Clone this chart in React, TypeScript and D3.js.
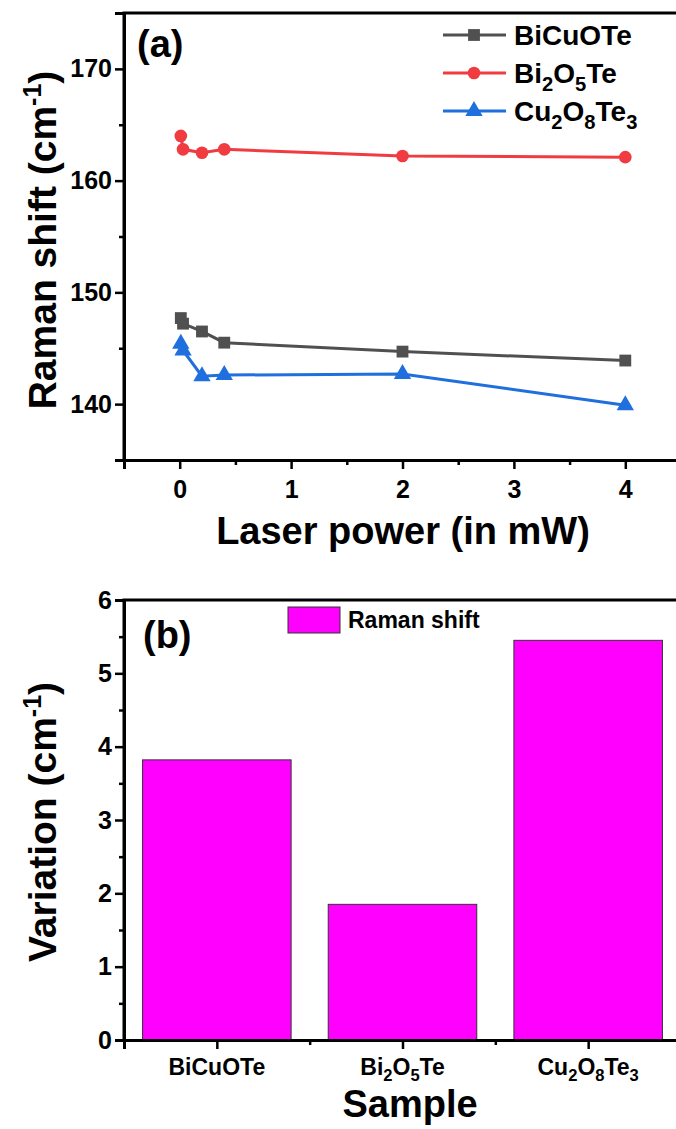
import React, { useEffect, useRef } from 'react'
import * as d3 from 'd3'

// panel (a): Raman shift vs laser power
const power = [0.01, 0.03, 0.2, 0.4, 2, 4]
const bicuote = [147.7, 147.2, 146.5, 145.5, 144.7, 143.9]
const bi2o5te = [164.0, 162.8, 162.5, 162.8, 162.2, 162.1]
const cu2o8te3 = [145.4, 144.8, 142.5, 142.6, 142.7, 139.9]
const xTicksA = [0, 1, 2, 3, 4]
const yTicksA = [140, 150, 160, 170]

// panel (b): variation per sample
const samples = ['BiCuOTe', 'Bi2O5Te', 'Cu2O8Te3']
const variation = [3.82, 1.85, 5.45]
const yTicksB = [0, 1, 2, 3, 4, 5, 6]

const FONT = '"Liberation Sans", Arial, sans-serif'

// write a formula like Bi2O5Te with subscript digits
const writeFormula = (sel: any, s: string, size: number, k = 0.3) => {
	const parts = s.match(/\d+|\D+/g) || []
	const shift = size * k
	let prev = 0
	parts.forEach((p) => {
		const sub = /\d/.test(p)
		const cur = sub ? shift : 0
		sel
			.append('tspan')
			.attr('font-size', sub ? size * 0.72 : size)
			.attr('dy', cur - prev)
			.text(p)
		prev = cur
	})
}

const styleTicks = (g: any, size: number) => {
	g.selectAll('.domain').attr('stroke-width', 3)
	g.selectAll('.tick line').attr('stroke-width', 2.5)
	g.selectAll('.tick text')
		.attr('font-size', size)
		.attr('font-family', FONT)
		.attr('font-weight', 'bold')
		.attr('fill', '#000')
}

const App = () => {
	const ref = useRef<SVGSVGElement>(null)

	useEffect(() => {
		const svg = d3.select(ref.current)
		svg.selectAll('*').remove()
		svg.attr('font-family', FONT).attr('font-weight', 'bold')

		// ---------- panel (a) ----------
		const left = 124
		const topA = 13
		const botA = 460
		const rightA = 681
		const x = d3.scaleLinear().domain([-0.5, 4.5]).range([left, rightA])
		const y = d3.scaleLinear().domain([135, 175]).range([botA, topA])

		const gA = svg.append('g')
		const series = [
			{ name: 'BiCuOTe', vals: bicuote, color: '#505050', sym: d3.symbolSquare, size: 140 },
			{ name: 'Bi2O5Te', vals: bi2o5te, color: '#f03c40', sym: d3.symbolCircle, size: 125 },
			{ name: 'Cu2O8Te3', vals: cu2o8te3, color: '#1f6fde', sym: d3.symbolTriangle, size: 130 },
		]
		const line = d3
			.line<number>()
			.x((d, i) => x(power[i]))
			.y((d) => y(d))

		series.forEach((s) => {
			gA.append('path')
				.attr('d', line(s.vals))
				.attr('fill', 'none')
				.attr('stroke', s.color)
				.attr('stroke-width', 3)
			gA.selectAll(null)
				.data(s.vals)
				.enter()
				.append('path')
				.attr('d', d3.symbol().type(s.sym).size(s.size)())
				.attr('transform', (d, i) => `translate(${x(power[i])},${y(d)})`)
				.attr('fill', s.color)
		})

		// frame
		gA.append('path')
			.attr('d', `M${left},${botA}V${topA}H${rightA}`)
			.attr('fill', 'none')
			.attr('stroke', '#000')
			.attr('stroke-width', 3)

		const xAxisA = gA.append('g').attr('transform', `translate(0,${botA})`)
		xAxisA.call(d3.axisBottom(x).tickValues(xTicksA).tickSize(9).tickPadding(11).tickFormat(d3.format('d')))
		xAxisA
			.append('g')
			.call(d3.axisBottom(x).tickValues(d3.range(-0.5, 4.6, 1)).tickSize(5).tickFormat(() => ''))

		const yAxisA = gA.append('g').attr('transform', `translate(${left},0)`)
		yAxisA.call(d3.axisLeft(y).tickValues(yTicksA).tickSize(9).tickPadding(3).tickFormat(d3.format('d')))
		yAxisA
			.append('g')
			.call(d3.axisLeft(y).tickValues([135, 145, 155, 165, 175]).tickSize(5).tickFormat(() => ''))
		styleTicks(gA, 25)

		gA.append('text')
			.attr('x', 137)
			.attr('y', 57)
			.attr('font-size', 38)
			.text('(a)')

		gA.append('text')
			.attr('x', 403)
			.attr('y', 544)
			.attr('text-anchor', 'middle')
			.attr('font-size', 38)
			.text('Laser power (in mW)')

		const yl = gA.append('text')
			.attr('transform', `translate(56,240) rotate(-90)`)
			.attr('text-anchor', 'middle')
			.attr('font-size', 39)
		yl.append('tspan').text('Raman shift (cm')
		yl.append('tspan').attr('font-size', 25).attr('dy', -15).text('-1')
		yl.append('tspan').attr('dy', 15).text(')')

		// legend (a)
		series.forEach((s, i) => {
			const ly = 35 + i * 38
			const lg = gA.append('g').attr('transform', `translate(0,${ly})`)
			lg.append('line').attr('x1', 443).attr('x2', 506).attr('y1', 0).attr('y2', 0)
				.attr('stroke', s.color).attr('stroke-width', 3)
			lg.append('path').attr('d', d3.symbol().type(s.sym).size(s.size)())
				.attr('transform', 'translate(474,0)').attr('fill', s.color)
			const t = lg.append('text').attr('x', 514).attr('y', 10).attr('font-size', 28)
			writeFormula(t, s.name, 28)
		})

		// ---------- panel (b) ----------
		const topB = 600
		const botB = 1040
		const xb = d3.scaleLinear().domain([0.5, 3.5]).range([left, rightA])
		const yb = d3.scaleLinear().domain([0, 6]).range([botB, topB])
		const band = 0.8
		const gB = svg.append('g')

		gB.selectAll('rect.bar')
			.data(variation)
			.enter()
			.append('rect')
			.attr('class', 'bar')
			.attr('x', (d, i) => xb(i + 1 - band / 2))
			.attr('width', xb(1 + band / 2) - xb(1 - band / 2))
			.attr('y', (d) => yb(d))
			.attr('height', (d) => botB - yb(d))
			.attr('fill', '#ff00ff')
			.attr('stroke', '#333')
			.attr('stroke-width', 1)

		gB.append('path')
			.attr('d', `M${left},${botB}V${topB}H${rightA}`)
			.attr('fill', 'none')
			.attr('stroke', '#000')
			.attr('stroke-width', 3)

		const xAxisB = gB.append('g').attr('transform', `translate(0,${botB})`)
		xAxisB.call(d3.axisBottom(xb).tickValues([1, 2, 3]).tickSize(9).tickFormat(() => ''))
		xAxisB.append('g').call(d3.axisBottom(xb).tickValues([0.5, 1.5, 2.5]).tickSize(5).tickFormat(() => ''))

		samples.forEach((s, i) => {
			const t = gB.append('text')
				.attr('x', xb(i + 1))
				.attr('y', 1075)
				.attr('text-anchor', 'middle')
				.attr('font-size', 23)
			writeFormula(t, s, 23, 0.25)
		})

		const yAxisB = gB.append('g').attr('transform', `translate(${left},0)`)
		yAxisB.call(d3.axisLeft(yb).tickValues(yTicksB).tickSize(9).tickPadding(3).tickFormat(d3.format('d')))
		yAxisB.append('g').call(d3.axisLeft(yb).tickValues(d3.range(0.5, 6, 1)).tickSize(5).tickFormat(() => ''))
		styleTicks(gB, 25)

		gB.append('text')
			.attr('x', 143)
			.attr('y', 648)
			.attr('font-size', 38)
			.text('(b)')

		gB.append('rect')
			.attr('x', 288).attr('y', 607).attr('width', 52).attr('height', 26)
			.attr('fill', '#ff00ff').attr('stroke', '#333').attr('stroke-width', 1)
		gB.append('text').attr('x', 348).attr('y', 628).attr('font-size', 23).text('Raman shift')

		gB.append('text')
			.attr('x', 410)
			.attr('y', 1117)
			.attr('text-anchor', 'middle')
			.attr('font-size', 38)
			.text('Sample')

		const yl2 = gB.append('text')
			.attr('transform', `translate(56,822) rotate(-90)`)
			.attr('text-anchor', 'middle')
			.attr('font-size', 39)
		yl2.append('tspan').text('Variation (cm')
		yl2.append('tspan').attr('font-size', 25).attr('dy', -15).text('-1')
		yl2.append('tspan').attr('dy', 15).text(')')
	}, [])

	return (
		<svg
			ref={ref}
			width={676}
			height={1129}
			style={{ position: 'absolute', left: 0, top: 0, background: '#fff' }}
		/>
	)
}

export default App
